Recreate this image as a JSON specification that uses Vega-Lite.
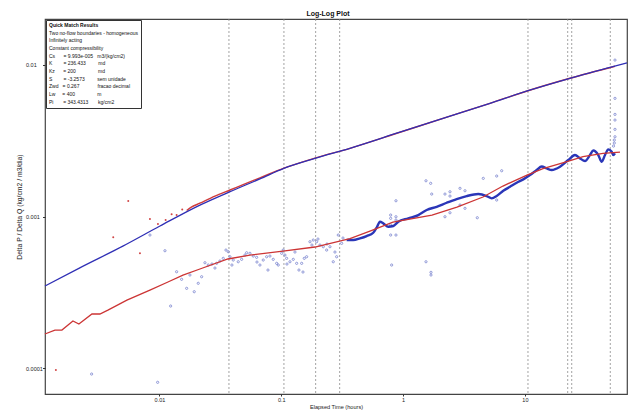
{
  "$schema": "https://vega.github.io/schema/vega-lite/v6.json",
  "width": 582,
  "height": 375,
  "autosize": {"type": "none"},
  "padding": {"left": 45, "top": 19, "right": 5, "bottom": 17},
  "background": "white",
  "title": {"text": "Log-Log Plot", "fontSize": 7, "font": "Liberation Sans", "fontWeight": "bold", "offset": 2, "dx": -8, "color": "#111"},
  "datasets": {
    "boundaries": [{"t": 0.03721}, {"t": 0.1052}, {"t": 0.1916}, {"t": 0.3017}, {"t": 10.6}, {"t": 22.46}, {"t": 24.23}, {"t": 50.24}],
    "pressureScatter": [{"t":0.001413,"v":0.0000972},{"t":0.004176,"v":0.000729},{"t":0.005546,"v":0.001265},{"t":0.006918,"v":0.000572},{"t":0.008356,"v":0.000963},{"t":0.00972,"v":0.000892},{"t":0.01124,"v":0.000948},{"t":0.01259,"v":0.001034},{"t":0.01384,"v":0.001023},{"t":0.01539,"v":0.001115}],
    "pressureData": [{"t":0.01673,"v":0.001095},{"t":0.01814,"v":0.001148},{"t":0.0215,"v":0.001225},{"t":0.02856,"v":0.001365},{"t":0.03793,"v":0.001497},{"t":0.05035,"v":0.001643},{"t":0.0668,"v":0.001800},{"t":0.1052,"v":0.002085},{"t":0.1892,"v":0.002431},{"t":0.3664,"v":0.002818},{"t":0.943,"v":0.003597},{"t":2.427,"v":0.004592},{"t":5.17,"v":0.005585},{"t":10.6,"v":0.006761},{"t":23.44,"v":0.008166},{"t":54.9,"v":0.0098}],
    "pressureModel": [{"t":0.00115,"v":0.000348},{"t":0.00222,"v":0.000459},{"t":0.00501,"v":0.000638},{"t":0.0101,"v":0.000866},{"t":0.0215,"v":0.00119},{"t":0.038,"v":0.00146},{"t":0.0668,"v":0.00177},{"t":0.105,"v":0.00208},{"t":0.189,"v":0.00242},{"t":0.366,"v":0.00282},{"t":0.943,"v":0.0036},{"t":2.43,"v":0.00459},{"t":5.17,"v":0.00558},{"t":10.6,"v":0.00676},{"t":23.4,"v":0.00816},{"t":50,"v":0.00964},{"t":68.9,"v":0.01033}],
    "derivModel": [{"t":0.001148,"v":0.0001679},{"t":0.001387,"v":0.0001782},{"t":0.001583,"v":0.0001782},{"t":0.00195,"v":0.0002046},{"t":0.002183,"v":0.0001954},{"t":0.002793,"v":0.0002275},{"t":0.003247,"v":0.0002275},{"t":0.003776,"v":0.0002415},{"t":0.005408,"v":0.0002812},{"t":0.008356,"v":0.0003273},{"t":0.01175,"v":0.0003698},{"t":0.0156,"v":0.0004111},{"t":0.0215,"v":0.0004508},{"t":0.03648,"v":0.0005248},{"t":0.05534,"v":0.0005572},{"t":0.1033,"v":0.000592},{"t":0.1891,"v":0.0006295},{"t":0.3664,"v":0.000716},{"t":0.5348,"v":0.000802},{"t":0.826,"v":0.00092},{"t":1.727,"v":0.001023},{"t":2.77,"v":0.001155},{"t":4.529,"v":0.001345},{"t":6.607,"v":0.001589},{"t":10.4,"v":0.001878},{"t":14.08,"v":0.002073},{"t":22.16,"v":0.002306},{"t":29.99,"v":0.002488},{"t":43.78,"v":0.002612},{"t":60.37,"v":0.002664}],
    "derivDense": [{"t":0.3443,"v":0.0006998},{"t":0.39,"v":0.0006998},{"t":0.4427,"v":0.000718},{"t":0.5024,"v":0.0007436},{"t":0.5691,"v":0.000782},{"t":0.6106,"v":0.0008525},{"t":0.6461,"v":0.000924},{"t":0.6876,"v":0.000902},{"t":0.7558,"v":0.000856},{"t":0.8309,"v":0.000866},{"t":0.9133,"v":0.000924},{"t":1.103,"v":0.000973},{"t":1.333,"v":0.001023},{"t":1.562,"v":0.001104},{"t":1.888,"v":0.00116},{"t":2.28,"v":0.001233},{"t":2.754,"v":0.001304},{"t":3.328,"v":0.001365},{"t":4.144,"v":0.001407},{"t":4.858,"v":0.001365},{"t":5.339,"v":0.001318},{"t":5.868,"v":0.001365},{"t":6.648,"v":0.00148},{"t":7.546,"v":0.001572},{"t":8.566,"v":0.001671},{"t":9.703,"v":0.001759},{"t":11.01,"v":0.001878},{"t":12.5,"v":0.002026},{"t":13.74,"v":0.002137},{"t":15.1,"v":0.002079},{"t":16.6,"v":0.002026},{"t":19.42,"v":0.002131},{"t":22.72,"v":0.002359},{"t":25.78,"v":0.002545},{"t":28.35,"v":0.00242},{"t":31.15,"v":0.002323},{"t":34.23,"v":0.002545},{"t":36.44,"v":0.002725},{"t":40.05,"v":0.002545},{"t":42.71,"v":0.002298},{"t":45.46,"v":0.002545},{"t":48.38,"v":0.002775},{"t":51.6,"v":0.002676},{"t":53.2,"v":0.002545},{"t":54.9,"v":0.002612}],
    "derivScatter": [{"t":0.002776,"v":0.0000914},{"t":0.00967,"v":0.0000806},{"t":0.00836,"v":0.000755},{"t":0.0111,"v":0.000595},{"t":0.01236,"v":0.0002568},{"t":0.01384,"v":0.0004324},{"t":0.01521,"v":0.0003853},{"t":0.01673,"v":0.000336},{"t":0.0178,"v":0.0004113},{"t":0.01931,"v":0.0003192},{"t":0.02083,"v":0.0003627},{"t":0.02221,"v":0.0004008},{"t":0.02364,"v":0.0004958},{"t":0.02516,"v":0.0004787},{"t":0.02698,"v":0.000486},{"t":0.02856,"v":0.0004574},{"t":0.02949,"v":0.0004912},{"t":0.03138,"v":0.0005087},{"t":0.03341,"v":0.00053},{"t":0.03516,"v":0.000601},{"t":0.03672,"v":0.000586},{"t":0.03792,"v":0.000543},{"t":0.03937,"v":0.0004787},{"t":0.04036,"v":0.0005164},{"t":0.04436,"v":0.0005032},{"t":0.0473,"v":0.000522},{"t":0.05035,"v":0.0005572},{"t":0.05198,"v":0.000577},{"t":0.05534,"v":0.000572},{"t":0.0589,"v":0.0005487},{"t":0.0628,"v":0.0005381},{"t":0.0632,"v":0.000501},{"t":0.06685,"v":0.0004787},{"t":0.07115,"v":0.0005164},{"t":0.07588,"v":0.000543},{"t":0.0778,"v":0.0004437},{"t":0.08075,"v":0.0005487},{"t":0.08596,"v":0.000522},{"t":0.0917,"v":0.0004912},{"t":0.0945,"v":0.0004787},{"t":0.1008,"v":0.000572},{"t":0.1038,"v":0.000601},{"t":0.1072,"v":0.0005572},{"t":0.1107,"v":0.00053},{"t":0.1114,"v":0.000486},{"t":0.1179,"v":0.0005032},{"t":0.1255,"v":0.000522},{"t":0.1296,"v":0.000583},{"t":0.1338,"v":0.0004912},{"t":0.1397,"v":0.0004437},{"t":0.1471,"v":0.0004912},{"t":0.1508,"v":0.0004304},{"t":0.1545,"v":0.00053},{"t":0.1616,"v":0.000543},{"t":0.172,"v":0.000682},{"t":0.1786,"v":0.0006486},{"t":0.1831,"v":0.0006998},{"t":0.1953,"v":0.000682},{"t":0.2001,"v":0.0007105},{"t":0.2078,"v":0.0006486},{"t":0.2212,"v":0.000632},{"t":0.2359,"v":0.000601},{"t":0.2373,"v":0.0006585},{"t":0.2511,"v":0.000632},{"t":0.2673,"v":0.0005032},{"t":0.276,"v":0.000583},{"t":0.285,"v":0.000543},{"t":0.2938,"v":0.000755},{"t":0.3133,"v":0.0006655},{"t":0.3211,"v":0.0007214},{"t":0.806,"v":0.0004787},{"t":0.791,"v":0.001023},{"t":0.791,"v":0.000973},{"t":0.791,"v":0.000879},{"t":0.791,"v":0.000755},{"t":0.8743,"v":0.001271},{"t":0.8743,"v":0.000997},{"t":0.8743,"v":0.000948},{"t":0.8743,"v":0.000755},{"t":1.542,"v":0.001722},{"t":1.685,"v":0.001656},{"t":1.718,"v":0.001407},{"t":2.208,"v":0.001407},{"t":2.427,"v":0.001457},{"t":2.427,"v":0.001365},{"t":2.933,"v":0.001535},{"t":3.223,"v":0.00148},{"t":2.933,"v":0.001191},{"t":3.223,"v":0.001133},{"t":2.427,"v":0.001059},{"t":2.208,"v":0.000997},{"t":4.067,"v":0.000982},{"t":4.555,"v":0.001786},{"t":5.868,"v":0.00185},{"t":6.45,"v":0.002005},{"t":5.868,"v":0.001285},{"t":1.542,"v":0.0005032},{"t":1.695,"v":0.0004284},{"t":1.695,"v":0.0004113},{"t":54.9,"v":0.01077},{"t":54.9,"v":0.00602},{"t":54.9,"v":0.00472},{"t":54.9,"v":0.00433},{"t":54.9,"v":0.00376},{"t":54.9,"v":0.00336},{"t":54.2,"v":0.003196},{"t":54.2,"v":0.003054},{"t":53.4,"v":0.002917}],
    "info": [
      {"line": "Two no-flow boundaries - homogeneous"},
      {"line": "Infinitely acting"},
      {"line": "Constant compressibility"},
      {"line": "Cs\u00a0\u00a0\u00a0\u00a0\u00a0\u00a0= 9.993e-005\u00a0\u00a0\u00a0m3/(kg/cm2)"},
      {"line": "K\u00a0\u00a0\u00a0\u00a0\u00a0\u00a0\u00a0\u00a0= 236.433\u00a0\u00a0\u00a0\u00a0\u00a0\u00a0\u00a0\u00a0\u00a0md"},
      {"line": "Kz\u00a0\u00a0\u00a0\u00a0\u00a0\u00a0= 200\u00a0\u00a0\u00a0\u00a0\u00a0\u00a0\u00a0\u00a0\u00a0\u00a0\u00a0\u00a0\u00a0\u00a0\u00a0\u00a0md"},
      {"line": "S\u00a0\u00a0\u00a0\u00a0\u00a0\u00a0\u00a0\u00a0= -3.2573\u00a0\u00a0\u00a0\u00a0\u00a0\u00a0\u00a0\u00a0\u00a0sem unidade"},
      {"line": "Zwd\u00a0\u00a0\u00a0= 0.267\u00a0\u00a0\u00a0\u00a0\u00a0\u00a0\u00a0\u00a0\u00a0\u00a0\u00a0\u00a0\u00a0fracao decimal"},
      {"line": "Lw\u00a0\u00a0\u00a0\u00a0\u00a0= 400\u00a0\u00a0\u00a0\u00a0\u00a0\u00a0\u00a0\u00a0\u00a0\u00a0\u00a0\u00a0\u00a0\u00a0\u00a0\u00a0m"},
      {"line": "Pi\u00a0\u00a0\u00a0\u00a0\u00a0\u00a0\u00a0= 343.4313\u00a0\u00a0\u00a0\u00a0\u00a0\u00a0\u00a0kg/cm2"}
    ]
  },
  "layer": [
    {
      "data": {"name": "boundaries"},
      "mark": {"type": "rule", "color": "#8c8c8c", "strokeWidth": 0.8, "strokeDash": [2, 2]},
      "encoding": {
        "x": {"field": "t", "type": "quantitative", "scale": {"type": "log", "domain": [0.00115, 68.9], "nice": false},
          "axis": {"values": [0.01, 0.1, 1, 10], "format": "~g", "labelFontSize": 5.5, "tickSize": 2, "labelPadding": 1.5, "title": "Elapsed Time (hours)", "titleFontSize": 5.6, "titlePadding": 1.5}}
      }
    },
    {
      "data": {"name": "pressureScatter"},
      "mark": {"type": "point", "filled": true, "size": 4, "color": "#d04545", "opacity": 1},
      "encoding": {
        "x": {"field": "t", "type": "quantitative"},
        "y": {"field": "v", "type": "quantitative", "scale": {"type": "log", "domain": [0.0000675, 0.0201], "nice": false},
          "axis": {"values": [0.0001, 0.001, 0.01], "format": "~g", "labelFontSize": 5.5, "labelAlign": "left", "labelBaseline": "middle", "tickSize": 2.5, "labelPadding": 17, "title": "Delta P / Delta Q (kg/cm2 / m3/dia)", "titleFontSize": 6.8, "titlePadding": 3}}
      }
    },
    {
      "data": {"name": "pressureData"},
      "mark": {"type": "line", "color": "#d03c3c", "strokeWidth": 1.4, "interpolate": "monotone"},
      "encoding": {"x": {"field": "t", "type": "quantitative"}, "y": {"field": "v", "type": "quantitative"}}
    },
    {
      "data": {"name": "derivScatter"},
      "mark": {"type": "point", "filled": false, "size": 5, "strokeWidth": 0.7, "color": "#5c68c4", "opacity": 0.9},
      "encoding": {"x": {"field": "t", "type": "quantitative"}, "y": {"field": "v", "type": "quantitative"}}
    },
    {
      "data": {"name": "derivDense"},
      "mark": {"type": "line", "color": "#2a36b8", "strokeWidth": 2.4, "interpolate": "monotone"},
      "encoding": {"x": {"field": "t", "type": "quantitative"}, "y": {"field": "v", "type": "quantitative"}}
    },
    {
      "data": {"name": "pressureModel"},
      "mark": {"type": "line", "color": "#2f2fb5", "strokeWidth": 1.3, "interpolate": "monotone"},
      "encoding": {"x": {"field": "t", "type": "quantitative"}, "y": {"field": "v", "type": "quantitative"}}
    },
    {
      "data": {"name": "derivModel"},
      "mark": {"type": "line", "color": "#cc3535", "strokeWidth": 1.3},
      "encoding": {"x": {"field": "t", "type": "quantitative"}, "y": {"field": "v", "type": "quantitative"}}
    },
    {
      "data": {"name": "info"},
      "mark": {"type": "point", "opacity": 0},
      "encoding": {
        "color": {"field": "line", "type": "nominal", "sort": null, "scale": {"range": ["white"]},
          "legend": {"title": "Quick Match Results", "orient": "top-left", "offset": 1, "padding": 3, "strokeColor": "#333", "fillColor": "white",
            "titleFontSize": 5, "titleFontWeight": "bold", "titlePadding": 2, "titleColor": "#111",
            "labelFontSize": 5, "labelColor": "#111", "labelLimit": 300, "labelOffset": -5,
            "symbolSize": 0.1, "symbolOpacity": 0, "symbolStrokeWidth": 0, "rowPadding": 1.7}}
      }
    }
  ],
  "config": {
    "font": "Liberation Sans",
    "view": {"stroke": "#444", "strokeWidth": 1.2},
    "axis": {"grid": false, "domain": false, "tickColor": "#333", "labelColor": "#222", "titleColor": "#222", "titleFontWeight": "normal"},
    "legend": {"labelFont": "Liberation Sans", "titleFont": "Liberation Sans"}
  }
}
